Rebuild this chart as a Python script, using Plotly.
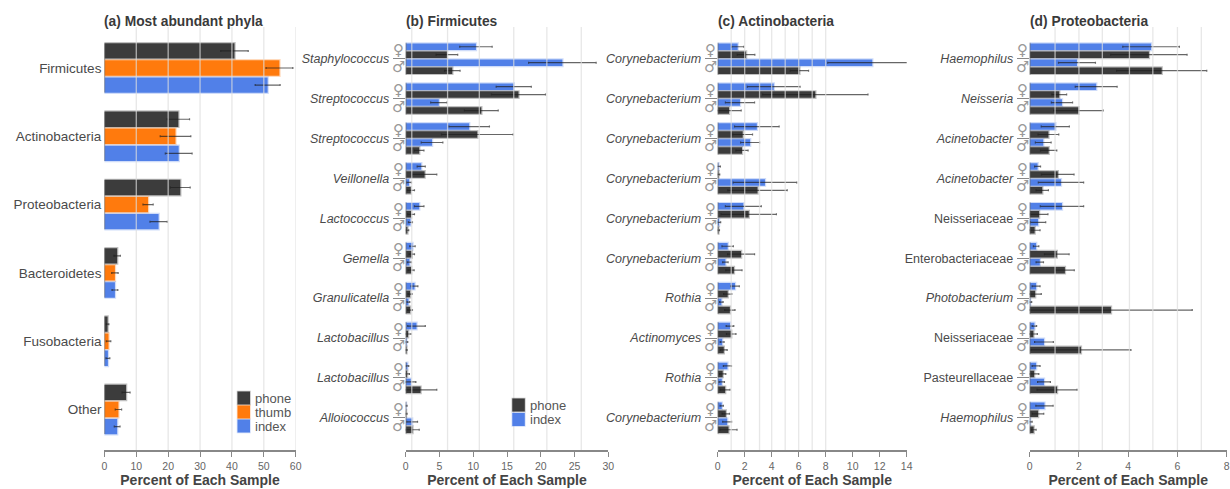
import plotly.graph_objects as go

W, H = 1230, 489

# ---------- data ----------
a_labels = ["Firmicutes", "Actinobacteria", "Proteobacteria", "Bacteroidetes", "Fusobacteria", "Other"]
a_phone = [40.8, 23.2, 23.8, 4.0, 1.0, 6.8]
a_phone_se = [4.3, 3.5, 3.1, 1.0, 0.4, 1.25]
a_thumb = [54.9, 22.3, 13.7, 3.3, 1.3, 4.4]
a_thumb_se = [4.2, 4.8, 1.6, 1.0, 0.7, 1.0]
a_index = [51.2, 23.3, 17.0, 3.3, 1.1, 4.0]
a_index_se = [3.9, 4.2, 2.7, 0.9, 0.6, 0.9]

b_labels = ["<i>Staphylococcus</i>", "<i>Streptococcus</i>", "<i>Streptococcus</i>", "<i>Veillonella</i>", "<i>Lactococcus</i>",
            "<i>Gemella</i>", "<i>Granulicatella</i>", "<i>Lactobacillus</i>", "<i>Lactobacillus</i>", "<i>Alloiococcus</i>"]
b_index_f = [10.4, 16, 9.4, 2.3, 2, 1, 1.3, 1.6, .25, .05]
b_index_f_se = [2.4, 2.6, 3, .6, .7, .4, .5, 1.3, .2, .15]
b_phone_f = [6.1, 16.7, 10.6, 2.8, .8, .9, .65, .35, .2, .05]
b_phone_f_se = [1.6, 4, 5.3, 1.8, .5, .4, .3, .45, .35, .15]
b_index_m = [23.2, 4.9, 3.9, .5, .7, .55, .4, .1, .75, .95]
b_index_m_se = [5, 1.2, 1.6, .35, .3, .3, .2, .2, .75, .8]
b_phone_m = [6.9, 11.2, 2, .75, .25, .8, .65, .1, 2.2, 1]
b_phone_m_se = [1.15, 2.5, .7, .55, .2, .45, .35, .1, 2.4, 1]

c_labels = ["<i>Corynebacterium</i>"] * 6 + ["<i>Rothia</i>", "<i>Actinomyces</i>", "<i>Rothia</i>", "<i>Corynebacterium</i>"]
c_index_f = [1.48, 4.15, 2.9, .05, 1.9, .74, 1.28, .91, .72, .3]
c_index_f_se = [.45, 1.95, 1.65, .15, 1.33, .42, .32, .28, .3, .12]
c_phone_f = [2.1, 7.23, 1.85, .05, 2.3, 1.73, .74, 1, .37, .6]
c_phone_f_se = [.65, 3.9, .73, .1, 2.05, 1, .3, .35, .23, .27]
c_index_m = [11.45, 1.65, 2.4, 3.5, .1, .57, .27, .33, .3, .7]
c_index_m_se = [3.3, 1.08, .7, 2.35, .12, .2, .13, .14, .2, .33]
c_phone_m = [6.05, .84, 1.8, 2.95, .05, 1.2, .9, .45, .55, .8]
c_phone_m_se = [.68, .9, .45, 2.2, .08, .6, .38, .25, .36, .63]

d_labels = ["<i>Haemophilus</i>", "<i>Neisseria</i>", "<i>Acinetobacter</i>", "<i>Acinetobacter</i>", "Neisseriaceae",
            "Enterobacteriaceae", "<i>Photobacterium</i>", "Neisseriaceae", "Pasteurellaceae", "<i>Haemophilus</i>"]
d_index_f = [4.93, 2.7, 1.04, .32, 1.31, .26, .26, .19, .26, .6]
d_index_f_se = [1.15, .85, .57, .12, .88, .11, .16, .09, .16, .35]
d_phone_f = [4.84, 1.2, .76, 1.14, .38, 1.1, .22, .15, .18, .34]
d_phone_f_se = [1.55, .3, .42, .66, .36, .5, .25, .16, .19, .23]
d_index_m = [1.92, 1.31, .55, 1.27, .34, .41, .02, .58, .58, .02]
d_index_m_se = [.75, .43, .32, .92, .31, .15, .06, .38, .26, .08]
d_phone_m = [5.36, 1.98, .77, .51, .2, 1.43, 3.3, 2.08, 1.11, .16]
d_phone_m_se = [1.83, 1, .33, .25, .22, .38, 3.3, 2.03, .81, .1]

titles = ["(a) Most abundant phyla", "(b) Firmicutes", "(c) Actinobacteria", "(d) Proteobacteria"]
x_ticks = [list(range(0, 61, 10)), list(range(0, 31, 5)), list(range(0, 15, 2)), list(range(0, 9, 2))]
x_grids = [[10, 20, 30, 40, 50, 60], [0.9, 6.2, 10.9, 16, 20.9, 26], [1, 2, 3.1, 4, 5, 6, 7, 8], [1.03, 2, 2.95, 4.05, 5, 6, 6.97]]

# ---------- style ----------
DARK, ORANGE, BLUE = "#3c3c3c", "#ff7a0d", "#5180e8"
HALO = {DARK: "rgba(60,60,60,0.32)", ORANGE: "rgba(255,122,13,0.28)", BLUE: "rgba(81,128,232,0.28)"}
FONT = "Liberation Sans, Arial, sans-serif"
ERR = "rgba(30,30,30,0.68)"
px_x = [(104.4, 295.7), (405.7, 608.3), (717.7, 906.7), (1029.7, 1226.7)]
TOP, BOT = 27, 450
y_ranges = [[(BOT - 68) / 68.3, (TOP - 68) / 68.3], [(BOT - 58.7) / 39.9, (TOP - 58.7) / 39.9]]

fig = go.Figure()


def add_bar(vals, se, ys, color, width, name, n):
    fig.add_trace(go.Bar(
        x=vals, y=ys, width=width, orientation="h", name=name, showlegend=False,
        xaxis=f"x{n}" if n > 1 else "x", yaxis=f"y{n}" if n > 1 else "y",
        marker=dict(color=color, line=dict(color=HALO[color], width=2.4)),
        error_x=dict(type="data", array=se, color=ERR, thickness=1.2, width=1),
        cliponaxis=False,
    ))


# panel a
for s, (v, e, c, nm) in enumerate([(a_phone, a_phone_se, DARK, "phone"),
                                   (a_thumb, a_thumb_se, ORANGE, "thumb"),
                                   (a_index, a_index_se, BLUE, "index")]):
    add_bar(v, e, [i + (s - 1) * 0.25 for i in range(len(v))], c, 0.225, nm, 1)

# panels b, c, d
panels = [
    (2, [(b_index_f, b_index_f_se, BLUE), (b_phone_f, b_phone_f_se, DARK), (b_index_m, b_index_m_se, BLUE), (b_phone_m, b_phone_m_se, DARK)]),
    (3, [(c_index_f, c_index_f_se, BLUE), (c_phone_f, c_phone_f_se, DARK), (c_index_m, c_index_m_se, BLUE), (c_phone_m, c_phone_m_se, DARK)]),
    (4, [(d_index_f, d_index_f_se, BLUE), (d_phone_f, d_phone_f_se, DARK), (d_index_m, d_index_m_se, BLUE), (d_phone_m, d_phone_m_se, DARK)]),
]
for n, series in panels:
    for s, (v, e, c) in enumerate(series):
        add_bar(v, e, [i + (s - 1.5) * 0.2 for i in range(len(v))], c, 0.163,
                "index" if c == BLUE else "phone", n)

shapes, annotations = [], []
all_labels = [a_labels, b_labels, c_labels, d_labels]
layout = {}
for k in range(4):
    n = k + 1
    sfx = "" if n == 1 else str(n)
    x0, x1 = px_x[k]
    layout[f"xaxis{sfx}"] = dict(
        domain=[x0 / W, x1 / W], range=[0, x_ticks[k][-1]], anchor=f"y{sfx}", automargin=False,
        tickvals=x_ticks[k], ticks="outside", ticklen=5, tickwidth=1, tickcolor="#888",
        showline=True, linecolor="#888", linewidth=2, showgrid=False, zeroline=False,
        tickfont=dict(family=FONT, size=10.5, color="#666"),
        title=dict(text="<b>Percent of Each Sample</b>", standoff=5,
                   font=dict(family=FONT, size=14, color="#444")),
    )
    n_groups = len(all_labels[k])
    layout[f"yaxis{sfx}"] = dict(
        domain=[1 - BOT / H, 1 - TOP / H], range=y_ranges[0 if k == 0 else 1], anchor=f"x{sfx}", automargin=False,
        tickvals=list(range(n_groups)), ticktext=all_labels[k],
        ticks="" if k == 0 else "outside", ticklen=0 if k == 0 else 12, tickwidth=1, tickcolor="#888",
        ticklabelstandoff=2 if k == 0 else 1,
        showline=False, showgrid=False, zeroline=False,
        tickfont=dict(family=FONT, size=13.5 if k == 0 else 12.5, color="#4a4a4a"),
    )
    xr, yr = f"x{sfx}", f"y{sfx}"
    # gridlines drawn over the bars
    for g in x_grids[k]:
        shapes.append(dict(type="line", xref=xr, yref=f"{yr} domain", x0=g, x1=g, y0=0, y1=1,
                           line=dict(color="rgba(222,222,222,0.72)", width=1.3), layer="above"))
    # left edge segment for every group
    half = 0.36 if k == 0 else 0.40
    for g in range(n_groups):
        shapes.append(dict(type="line", xref=xr, yref=yr, x0=0, x1=0, y0=g - half, y1=g + half,
                           line=dict(color="rgba(110,110,110,0.8)", width=1.5), layer="above"))
    # title
    annotations.append(dict(text=f"<b>{titles[k]}</b>", xref=f"{xr} domain", yref="paper",
                            x=0, y=1 - 21 / H, xshift=-2, yshift=-0.5, xanchor="left", yanchor="middle", showarrow=False,
                            font=dict(family=FONT, size=13.8, color="#3a3a3a")))
    # gender symbols
    if k > 0:
        for g in range(n_groups):
            for sym, off in (("\u2640", -0.225), ("\u2642", 0.2)):
                annotations.append(dict(text=sym, xref=f"{xr} domain", yref=yr, x=0, y=g + off,
                                        xshift=-7, xanchor="center", yanchor="middle", showarrow=False,
                                        font=dict(family="DejaVu Sans", size=15, color="#999999")))


def legend(px_left, rows):
    for text, color, yc in rows:
        shapes.append(dict(type="rect", xref="paper", yref="paper",
                           x0=px_left / W, x1=(px_left + 12.5) / W,
                           y0=1 - (yc + 6.5) / H, y1=1 - (yc - 6.5) / H,
                           fillcolor=color, line=dict(color=HALO[color], width=1.5), layer="above"))
        annotations.append(dict(text=text, xref="paper", yref="paper", x=(px_left + 15.5) / W, y=1 - yc / H,
                                xanchor="left", yanchor="middle", showarrow=False,
                                font=dict(family=FONT, size=13, color="#555")))


legend(237.5, [("phone", DARK, 398), ("thumb", ORANGE, 412), ("index", BLUE, 426)])
legend(512.3, [("phone", DARK, 405), ("index", BLUE, 419.5)])

fig.update_layout(
    width=W, height=H, margin=dict(l=0, r=0, t=0, b=0, autoexpand=False), autosize=False,
    paper_bgcolor="white", plot_bgcolor="white", barmode="overlay",
    font=dict(family=FONT), showlegend=False,
    shapes=shapes, annotations=annotations, **layout,
)
fig.write_html("out.html", config={"displayModeBar": False},
               post_script="document.body.style.margin='0';document.documentElement.style.overflow='hidden';")
